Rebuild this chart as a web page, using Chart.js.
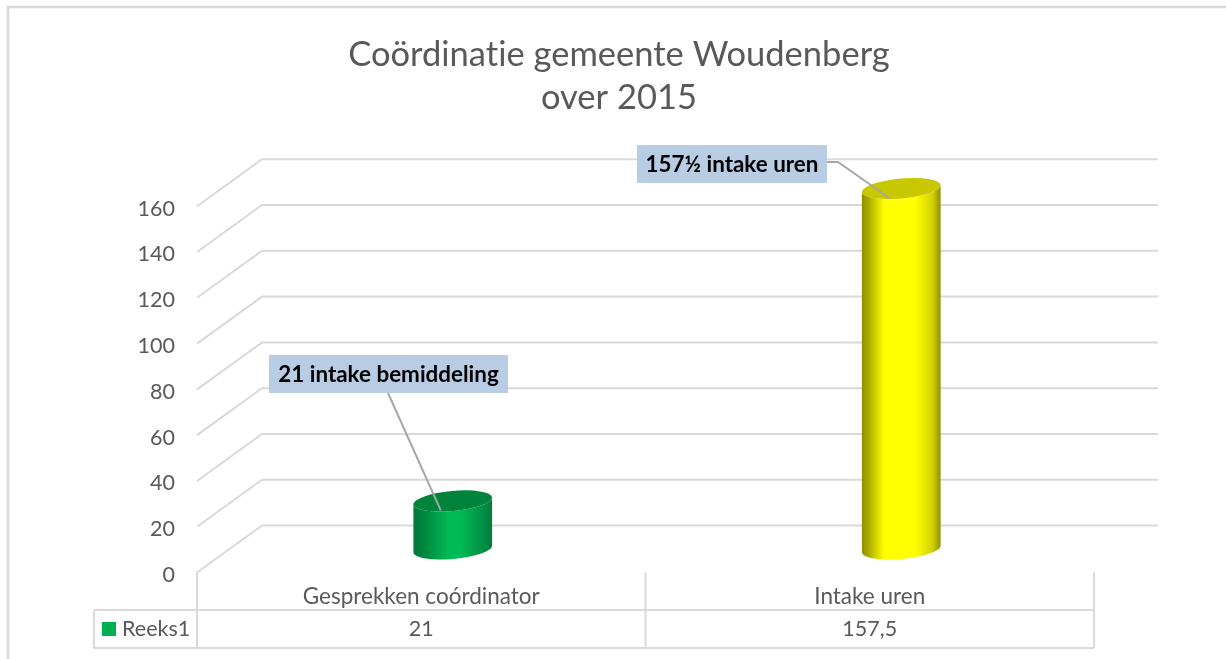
<!DOCTYPE html>
<html lang="nl">
<head>
<meta charset="utf-8">
<title>Coördinatie gemeente Woudenberg</title>
<style>
    html, body { margin: 0; padding: 0; background: #fff; }
    canvas { display: block; }
</style>
<script src="https://cdn.jsdelivr.net/npm/chart.js@4"></script>
</head>
<body>
<canvas id="chart" width="1226" height="659"></canvas>
<script>
// Data
const categories = ['Gesprekken coórdinator', 'Intake uren'];
const seriesName = 'Reeks1';
const seriesValues = [21, 157.5];
const calloutTexts = ['21 intake bemiddeling', '157½ intake uren'];
const titleLines = ['Coördinatie gemeente Woudenberg', 'over 2015'];

// Styling
const FONT = 'Lato, sans-serif';
const TEXT_COLOR = '#595959';
const GRID_COLOR = '#D9D9D9';
const DEPTH_X = 65;   // front plane -> back wall
const DEPTH_Y = -47;
const capColors = ['#00843C', '#C8C800'];
const barStops = [
    [[0, '#00783A'], [0.15, '#008A40'], [0.45, '#00BA55'], [0.6, '#00BA55'], [0.88, '#009045'], [1, '#007A38']],
    [[0, '#8E8E00'], [0.08, '#A8A800'], [0.28, '#FFFF00'], [0.68, '#FFFF00'], [0.9, '#D0D000'], [1, '#8E8E00']]
];
// box of each callout: left, top, width, height, and optional elbow of the leader line
const calloutBoxes = [
    { x: 269, y: 355, w: 239, h: 38, from: [388, 393] },
    { x: 637, y: 145, w: 190, h: 38, from: [827, 162], elbow: [838, 162] }
];

// Draws a tilted cylinder from the bar element that Chart.js laid out
function drawCylinder(ctx, bar, index) {
    const tilt = -0.09;
    const rx = bar.width / 2;
    const ry = 10;
    const cx = bar.x + DEPTH_X / 2 - 1;
    const topY = bar.y + DEPTH_Y / 2;
    const baseY = bar.base + DEPTH_Y / 2;
    const dx = rx * Math.cos(tilt);
    const dy = rx * Math.sin(tilt);

    const gradient = ctx.createLinearGradient(cx - rx, 0, cx + rx, 0);
    barStops[index].forEach(stop => gradient.addColorStop(stop[0], stop[1]));

    ctx.beginPath();
    ctx.moveTo(cx - dx, topY - dy);
    ctx.lineTo(cx - dx, baseY - dy);
    ctx.ellipse(cx, baseY, rx, ry, tilt, Math.PI, 0, true);
    ctx.lineTo(cx + dx, topY + dy);
    ctx.ellipse(cx, topY, rx, ry, tilt, 0, Math.PI, false);
    ctx.closePath();
    ctx.fillStyle = gradient;
    ctx.fill();

    ctx.beginPath();
    ctx.ellipse(cx, topY, rx, ry, tilt, 0, Math.PI * 2);
    ctx.fillStyle = capColors[index];
    ctx.fill();
}

const cylinderChartPlugin = {
    id: 'cylinderChart',
    beforeDraw(chart) {
        const { ctx, width, height } = chart;
        // a tiny letter spacing switches off Lato's "ti" ligature
        ctx.letterSpacing = '0.01px';
        ctx.save();
        ctx.strokeStyle = GRID_COLOR;
        ctx.lineWidth = 2.5;
        ctx.beginPath();
        ctx.moveTo(8, height);
        ctx.lineTo(8, 7);
        ctx.lineTo(width, 7);
        ctx.stroke();
        ctx.restore();
    },
    beforeDatasetsDraw(chart) {
        const { ctx, chartArea, scales: { x, y } } = chart;
        ctx.save();
        ctx.strokeStyle = GRID_COLOR;
        ctx.lineWidth = 2;

        // Gridlines: slanted floor/side part and the back wall, labels sit at the front plane
        y.ticks.forEach(tick => {
            const py = y.getPixelForValue(tick.value);
            ctx.beginPath();
            ctx.moveTo(chartArea.left, py);
            ctx.lineTo(chartArea.left + DEPTH_X, py + DEPTH_Y);
            ctx.lineTo(chartArea.right + DEPTH_X - 1, py + DEPTH_Y);
            ctx.stroke();

            ctx.font = '21.5px ' + FONT;
            ctx.fillStyle = TEXT_COLOR;
            ctx.textAlign = 'right';
            ctx.textBaseline = 'middle';
            ctx.fillText(tick.label, chartArea.left - 22, py + 2.5);
        });

        // Data table
        const rowTop = 610;
        const rowBottom = 648;
        const legendLeft = 94;
        const zeroY = y.getPixelForValue(0);
        const step = (chartArea.right - chartArea.left) / categories.length;
        ctx.beginPath();
        ctx.moveTo(legendLeft, rowTop);
        ctx.lineTo(chartArea.right, rowTop);
        ctx.moveTo(legendLeft, rowBottom);
        ctx.lineTo(chartArea.right, rowBottom);
        ctx.moveTo(legendLeft, rowTop);
        ctx.lineTo(legendLeft, rowBottom);
        for (let i = 0; i <= categories.length; i++) {
            ctx.moveTo(chartArea.left + step * i, zeroY);
            ctx.lineTo(chartArea.left + step * i, rowBottom);
        }
        ctx.stroke();

        ctx.font = '21.5px ' + FONT;
        ctx.fillStyle = TEXT_COLOR;
        ctx.textAlign = 'center';
        ctx.textBaseline = 'middle';
        seriesValues.forEach((value, i) => {
            ctx.fillText(String(value).replace('.', ','), x.getPixelForValue(i), 629);
        });
        ctx.textAlign = 'left';
        ctx.fillText(seriesName, 122, 629);
        ctx.fillStyle = '#00B050';
        ctx.fillRect(102, 622, 14, 14);
        ctx.restore();
    },
    // the 3D columns replace the flat rectangles
    beforeDatasetDraw() {
        return false;
    },
    afterDatasetsDraw(chart) {
        const { ctx } = chart;
        const bars = chart.getDatasetMeta(0).data;
        ctx.save();
        bars.forEach((bar, i) => drawCylinder(ctx, bar, i));

        bars.forEach((bar, i) => {
            const box = calloutBoxes[i];
            const endX = bar.x + DEPTH_X / 2 - 13;
            const endY = bar.y + DEPTH_Y / 2 + 9.5;

            ctx.strokeStyle = '#A6A6A6';
            ctx.lineWidth = 2;
            ctx.beginPath();
            ctx.moveTo(box.from[0], box.from[1]);
            if (box.elbow) ctx.lineTo(box.elbow[0], box.elbow[1]);
            ctx.lineTo(endX, endY);
            ctx.stroke();

            ctx.fillStyle = '#B8CCE4';
            ctx.fillRect(box.x, box.y, box.w, box.h);
            ctx.fillStyle = '#000';
            ctx.font = 'bold 22.4px ' + FONT;
            ctx.textAlign = 'center';
            ctx.textBaseline = 'middle';
            ctx.fillText(calloutTexts[i], box.x + box.w / 2, box.y + box.h / 2 + 0.5);
        });
        ctx.restore();
    }
};

new Chart(document.getElementById('chart'), {
    type: 'bar',
    data: {
        labels: categories,
        datasets: [{
            label: seriesName,
            data: seriesValues,
            backgroundColor: ['#00B050', '#FFFF00'],
            barThickness: 79
        }]
    },
    plugins: [cylinderChartPlugin],
    options: {
        responsive: false,
        animation: false,
        // left is larger than right: the title is centred a little right of the page middle
        layout: { padding: { left: 144, right: 132, top: 33, bottom: 0 } },
        plugins: {
            legend: { display: false },
            tooltip: { enabled: false },
            title: {
                display: true,
                text: titleLines,
                color: TEXT_COLOR,
                font: { family: FONT, size: 34.5, weight: 'normal', lineHeight: 1.25 },
                padding: { top: 0, bottom: 87 }
            }
        },
        scales: {
            x: {
                grid: { display: false, drawTicks: false },
                border: { display: false },
                ticks: {
                    color: TEXT_COLOR,
                    padding: 11,
                    maxRotation: 0,
                    font: { family: FONT, size: 22.5 }
                },
                afterFit(scale) { scale.height = 86.5; }
            },
            y: {
                min: 0,
                max: 160,
                grid: { display: false, drawTicks: false },
                border: { display: false },
                // tick text is drawn by the plugin a little lower than Chart.js would place it
                ticks: { stepSize: 20, display: false, padding: 0 },
                afterFit(scale) { scale.width = 53; }
            }
        }
    }
});
</script>
</body>
</html>
